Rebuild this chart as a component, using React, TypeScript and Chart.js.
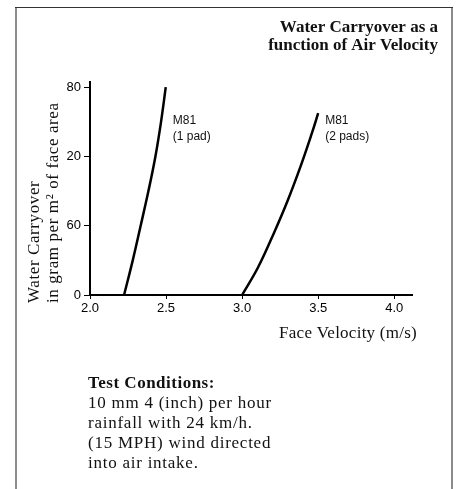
import React, { useEffect, useRef } from "react";
import { Chart, registerables } from "chart.js";

Chart.register(...registerables);

// Axis ticks
const xTickValues = [2.0, 2.5, 3.0, 3.5, 4.0];
const yTickValues = [0, 20, 40, 60];
const yTickLabels = ["0", "60", "20", "80"]; // as printed on the original, bottom to top

// M81 (1 pad)
const pad1Velocity = [2.224, 2.281, 2.333, 2.384, 2.43, 2.467, 2.498];
const pad1Carryover = [0, 10, 20, 30, 40, 50, 60];

// M81 (2 pads)
const pad2Velocity = [3.0, 3.105, 3.21, 3.297, 3.383, 3.457, 3.5];
const pad2Carryover = [0, 8, 18, 27, 37, 46.5, 52.5];

const seriesLabels = [
  ["M81", "(1 pad)"],
  ["M81", "(2 pads)"],
];

const titleLines = ["Water Carryover as a", "function of Air Velocity"];
const yTitleLines = ["Water Carryover", "in gram per m\u00B2 of face area"];
const xTitle = "Face Velocity (m/s)";
const conditionsTitle = "Test Conditions:";
const conditionsLines = [
  "10 mm 4 (inch) per hour",
  "rainfall with 24 km/h.",
  "(15 MPH) wind directed",
  "into air intake.",
];

const SERIF = "'Liberation Serif', 'Times New Roman', serif";
const SANS = "'Liberation Sans', Arial, sans-serif";

const W = 457;
const H = 489;

const decorPlugin = {
  id: "decor",
  afterDraw(chart: any) {
    const ctx = chart.ctx as any;
    const xs = chart.scales.x;
    const ys = chart.scales.y;
    ctx.save();

    // frame
    ctx.fillStyle = "#8c8c8c";
    ctx.fillRect(15, 7, 2, H - 7);
    ctx.fillRect(451, 7, 2, H - 7);
    ctx.fillStyle = "#333";
    ctx.fillRect(15, 7, 438, 1);

    // title
    ctx.fillStyle = "#111";
    ctx.font = `bold 17px ${SERIF}`;
    ctx.textAlign = "right";
    ctx.textBaseline = "alphabetic";
    ctx.letterSpacing = "0px";
    ctx.fillText(titleLines[0], 438, 32);
    ctx.fillText(titleLines[1], 438, 50);

    // y title
    ctx.font = `17px ${SERIF}`;
    ctx.textAlign = "left";
    ctx.letterSpacing = "0.6px";
    const yBases = [39, 58];
    yTitleLines.forEach((t, i) => {
      ctx.save();
      ctx.translate(yBases[i], 303);
      ctx.rotate(-Math.PI / 2);
      ctx.fillText(t, 0, 0);
      ctx.restore();
    });

    // x title
    ctx.letterSpacing = "0.25px";
    ctx.textAlign = "right";
    ctx.fillText(xTitle, 417, 338);

    // test conditions
    ctx.textAlign = "left";
    ctx.font = `bold 17px ${SERIF}`;
    ctx.letterSpacing = "0.5px";
    ctx.fillText(conditionsTitle, 88, 388);
    ctx.font = `17px ${SERIF}`;
    ctx.letterSpacing = "0.75px";
    conditionsLines.forEach((t, i) => ctx.fillText(t, 88, 408 + i * 20));

    // series labels
    ctx.letterSpacing = "0px";
    ctx.font = `12px ${SANS}`;
    ctx.fillStyle = "#111";
    const ends = [pad1Velocity[pad1Velocity.length - 1], pad2Velocity[pad2Velocity.length - 1]];
    seriesLabels.forEach((lines, i) => {
      const px = xs.getPixelForValue(ends[i]) + 7;
      const py = ys.getPixelForValue(49.5);
      lines.forEach((l, j) => ctx.fillText(l, px, py + j * 16));
    });

    ctx.restore();
  },
};

export default function App() {
  const ref = useRef<HTMLCanvasElement | null>(null);

  useEffect(() => {
    document.body.style.margin = "0";
    const canvas = ref.current!;
    const toPts = (xs: number[], ys: number[]) => xs.map((x, i) => ({ x, y: ys[i] }));
    const lineStyle = {
      showLine: true,
      borderColor: "#000",
      borderWidth: 2.5,
      pointRadius: 0,
      tension: 0.4,
      clip: false as any,
    };
    const chart = new Chart(canvas, {
      type: "scatter",
      data: {
        datasets: [
          { label: "M81 (1 pad)", data: toPts(pad1Velocity, pad1Carryover), ...lineStyle },
          { label: "M81 (2 pads)", data: toPts(pad2Velocity, pad2Carryover), ...lineStyle },
        ],
      },
      options: {
        animation: false,
        responsive: false,
        devicePixelRatio: 1,
        layout: { padding: { left: 0, top: 82, right: 44.5, bottom: 0 } },
        plugins: { legend: { display: false }, tooltip: { enabled: false }, title: { display: false } },
        scales: {
          x: {
            type: "linear",
            min: 2.0,
            max: 4.12,
            afterBuildTicks: (s: any) => {
              s.ticks = xTickValues.map((v) => ({ value: v }));
            },
            afterFit: (s: any) => {
              s.height = 194;
            },
            ticks: {
              callback: (v: any) => Number(v).toFixed(1),
              font: { family: SANS, size: 13 },
              color: "#000",
              padding: 2,
              maxRotation: 0,
            },
            grid: { drawOnChartArea: false, drawTicks: true, tickLength: 4, color: "#000", lineWidth: 1 },
            border: { display: true, color: "#000", width: 2 },
          },
          y: {
            type: "linear",
            min: 0,
            max: 61.5,
            afterBuildTicks: (s: any) => {
              s.ticks = yTickValues.map((v) => ({ value: v }));
            },
            afterFit: (s: any) => {
              s.width = 90;
            },
            ticks: {
              callback: (v: any) => yTickLabels[yTickValues.indexOf(Number(v))] ?? "",
              font: { family: SANS, size: 13 },
              color: "#000",
              padding: 3,
            },
            grid: { drawOnChartArea: false, drawTicks: true, tickLength: 6, color: "#000", lineWidth: 1 },
            border: { display: true, color: "#000", width: 2 },
          },
        },
      },
      plugins: [decorPlugin],
    });
    return () => chart.destroy();
  }, []);

  return (
    <div style={{ position: "absolute", left: 0, top: 0, width: W, height: H, background: "#fff" }}>
      <canvas ref={ref} width={W} height={H} style={{ display: "block", width: W, height: H }} />
    </div>
  );
}
